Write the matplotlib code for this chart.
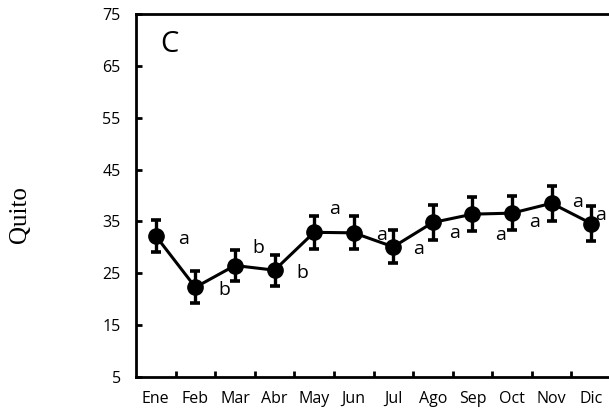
import matplotlib
matplotlib.use("Agg")
import matplotlib.pyplot as plt
import numpy as np

# monthly means and error (Quito)
months = ['Ene', 'Feb', 'Mar', 'Abr', 'May', 'Jun',
          'Jul', 'Ago', 'Sep', 'Oct', 'Nov', 'Dic']
means = [32.2, 22.3, 26.5, 25.6, 32.9, 32.8, 30.1, 34.8, 36.4, 36.6, 38.5, 34.6]
errors = [3.0, 3.1, 3.0, 3.0, 3.2, 3.2, 3.2, 3.3, 3.3, 3.3, 3.4, 3.4]

# significance letters with their placement (x in category units, y in data units)
letters = ['a', 'b', 'b', 'b', 'a', 'a', 'a', 'a', 'a', 'a', 'a', 'a']
letter_x = [0.71, 1.72, 2.60, 3.71, 4.52, 5.71, 6.64, 7.55, 8.71, 9.57, 10.66, 11.24]
letter_y = [31.6, 21.8, 29.9, 25.1, 37.4, 32.4, 29.7, 32.8, 32.4, 34.9, 38.7, 36.2]

yticks = [5, 15, 25, 35, 45, 55, 65, 75]


def plot_panel():
    plt.rcParams['font.family'] = ['Open Sans', 'DejaVu Sans']

    fig = plt.figure(figsize=(6.09, 4.16), dpi=100)
    ax = fig.add_axes([136 / 609, 39 / 416, 475 / 609, 363 / 416])

    x = np.arange(len(months))
    ax.errorbar(x, means, yerr=errors, color='black', linewidth=2.2,
                marker='o', markersize=11, elinewidth=2.4,
                capsize=3.4, capthick=2.6)

    for lx, ly, t in zip(letter_x, letter_y, letters):
        ax.text(lx, ly, t, ha='center', va='center', fontsize=14)

    ax.text(0.05, 0.915, 'C', transform=ax.transAxes, fontsize=21,
            ha='left', va='center')

    ax.set_xlim(-0.5, len(months) - 0.5)
    ax.set_ylim(5, 75)
    ax.set_yticks(yticks)
    ax.set_xticks(x)
    ax.set_xticklabels(months)
    ax.set_xticks(np.arange(0.5, len(months) - 0.5, 1), minor=True)

    ax.tick_params(axis='x', which='major', length=0, pad=10, labelsize=11.5)
    ax.tick_params(axis='x', which='minor', direction='in', length=4, width=2)
    ax.tick_params(axis='y', direction='in', length=4, width=2,
                   pad=11, labelsize=11.5)

    for side in ['left', 'bottom', 'top']:
        ax.spines[side].set_linewidth(2)
    ax.spines['right'].set_visible(False)

    fig.text(20 / 609, 1 - 215 / 416, 'Quito', rotation=90, ha='center',
             va='center', fontsize=18, family=['Liberation Serif'])

    fig.savefig('out.png', dpi=100)


if __name__ == "__main__":
    plot_panel()
